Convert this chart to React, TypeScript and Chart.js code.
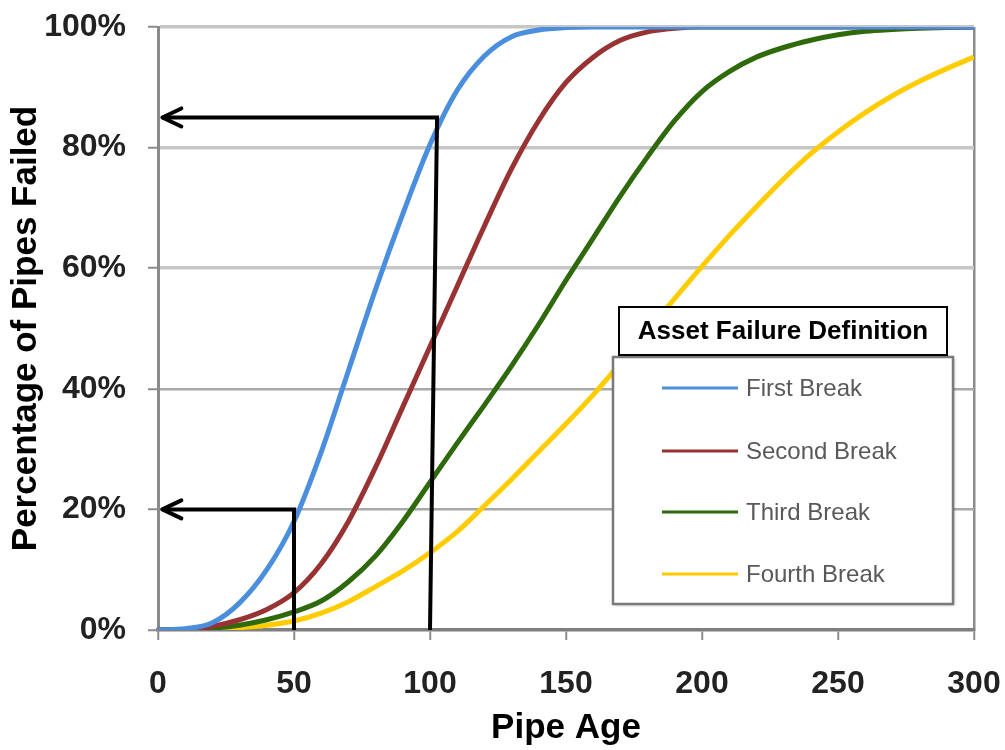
import React, { useEffect, useRef } from "react";
import { Chart, registerables } from "chart.js";

Chart.register(...registerables);

// Pipe age in years (x axis)
const pipeAge = [
  0, 10, 20, 30, 40, 50, 60, 70, 80, 90, 100, 110, 120, 130, 140, 150,
  160, 170, 180, 190, 200, 210, 220, 230, 240, 250, 260, 270, 280, 290, 300,
];

// Cumulative percentage of pipes failed, per failure definition
const firstBreak = [
  0, 0.2, 1.2, 4.5, 10, 18, 29.5, 43, 56.5, 69, 80.5, 89.5, 95.2, 98.4, 99.5, 99.9,
  100, 100, 100, 100, 100, 100, 100, 100, 100, 100, 100, 100, 100, 100, 100,
];
const secondBreak = [
  0, 0.1, 0.6, 1.7, 3.4, 6.2, 11, 18, 27, 37, 47, 57, 67, 76.5, 84.5, 90.8,
  95, 97.8, 99.2, 99.8, 100, 100, 100, 100, 100, 100, 100, 100, 100, 100, 100,
];
const thirdBreak = [
  0, 0.1, 0.3, 0.8, 1.7, 3, 4.8, 8, 12.3, 18, 24.5, 31, 37.3, 43.8, 50.7, 58,
  65, 72, 78.5, 84.5, 89.3, 92.6, 95, 96.6, 97.8, 98.7, 99.3, 99.6, 99.8, 99.9, 100,
];
const fourthBreak = [
  0, 0.1, 0.2, 0.4, 0.8, 1.5, 2.8, 4.7, 7.2, 9.8, 12.8, 16.3, 20.6, 25, 29.6, 34.2,
  39, 44.2, 49.6, 55, 60.3, 65.4, 70.2, 74.8, 79, 82.6, 85.8, 88.6, 91, 93.1, 95,
];

const seriesNames = ["First Break", "Second Break", "Third Break", "Fourth Break"];
const seriesValues = [firstBreak, secondBreak, thirdBreak, fourthBreak];
const seriesColors = ["#4A8FDE", "#993333", "#2E6A0C", "#FFCC00"];

const legendTitle = "Asset Failure Definition";
const xAxisTitle = "Pipe Age";
const yAxisTitle = "Percentage of Pipes Failed";

// Read-off guides (age, percent): up from the age axis, across to the percent axis
const guideFirstBreak85 = [
  [100, 0],
  [102.6, 85],
  [1.6, 85],
];
const guideFirstBreak20 = [
  [50, 0],
  [50, 20],
  [1.6, 20],
];
const guides = [guideFirstBreak85, guideFirstBreak20];

const FONT = "'Liberation Sans', Arial, sans-serif";

const guidePlugin = {
  id: "readGuides",
  afterDatasetsDraw(chart: any) {
    const { ctx, scales } = chart;
    const xs = scales.x;
    const ys = scales.y;
    ctx.save();
    ctx.strokeStyle = "#000";
    ctx.lineWidth = 4;
    for (const g of guides) {
      const pts = g.map(([a, b]) => [xs.getPixelForValue(a), ys.getPixelForValue(b)]);
      ctx.lineJoin = "miter";
      ctx.lineCap = "butt";
      ctx.beginPath();
      ctx.moveTo(pts[0][0], pts[0][1]);
      for (let i = 1; i < pts.length; i++) ctx.lineTo(pts[i][0], pts[i][1]);
      ctx.stroke();
      const [tx, ty] = pts[pts.length - 1];
      ctx.lineJoin = "round";
      ctx.lineCap = "round";
      ctx.beginPath();
      ctx.moveTo(tx + 19, ty - 9);
      ctx.lineTo(tx, ty);
      ctx.lineTo(tx + 19, ty + 9);
      ctx.stroke();
    }
    ctx.restore();
  },
};

const legendPlugin = {
  id: "boxedLegend",
  afterDatasetsDraw(chart: any) {
    const { ctx } = chart;
    const box = { left: 613, top: 357, right: 953, bottom: 604 };
    const head = { left: 619, top: 307, right: 947, bottom: 355 };
    ctx.save();
    // frame with soft shadow
    ctx.shadowColor = "rgba(0,0,0,0.35)";
    ctx.shadowBlur = 3;
    ctx.shadowOffsetX = 1;
    ctx.shadowOffsetY = 1;
    ctx.fillStyle = "#fff";
    ctx.fillRect(box.left, box.top, box.right - box.left, box.bottom - box.top);
    ctx.shadowColor = "transparent";
    ctx.strokeStyle = "#7a7a7a";
    ctx.lineWidth = 2.5;
    ctx.strokeRect(box.left, box.top, box.right - box.left, box.bottom - box.top);

    // heading
    ctx.fillStyle = "#fff";
    ctx.fillRect(head.left, head.top, head.right - head.left, head.bottom - head.top);
    ctx.strokeStyle = "#000";
    ctx.lineWidth = 2;
    ctx.strokeRect(head.left, head.top, head.right - head.left, head.bottom - head.top);
    ctx.fillStyle = "#000";
    ctx.font = `bold 26px ${FONT}`;
    ctx.textAlign = "center";
    ctx.textBaseline = "middle";
    ctx.fillText(legendTitle, (head.left + head.right) / 2, (head.top + head.bottom) / 2 + 1);

    // entries
    const rows = [388, 451, 512, 574];
    chart.data.datasets.forEach((ds: any, i: number) => {
      const yy = rows[i];
      ctx.strokeStyle = ds.borderColor;
      ctx.lineWidth = 3;
      ctx.lineCap = "butt";
      ctx.beginPath();
      ctx.moveTo(662, yy);
      ctx.lineTo(738, yy);
      ctx.stroke();
      ctx.fillStyle = "#595959";
      ctx.font = `24px ${FONT}`;
      ctx.textAlign = "left";
      ctx.textBaseline = "middle";
      ctx.fillText(ds.label, 746, yy + 1);
    });
    ctx.restore();
  },
};

export default function App() {
  const canvasRef = useRef<HTMLCanvasElement | null>(null);

  useEffect(() => {
    const canvas = canvasRef.current;
    if (!canvas) return;
    const chart = new Chart(canvas, {
      type: "line",
      data: {
        datasets: seriesNames.map((name, i) => ({
          label: name,
          data: pipeAge.map((a, j) => ({ x: a, y: seriesValues[i][j] })),
          borderColor: seriesColors[i],
          backgroundColor: seriesColors[i],
          borderWidth: 5,
          pointRadius: 0,
          cubicInterpolationMode: "monotone" as const,
          fill: false,
        })),
      },
      options: {
        responsive: false,
        animation: false,
        devicePixelRatio: 1,
        layout: { padding: { top: 27, right: 31, left: 0, bottom: 0 } },
        plugins: {
          legend: { display: false },
          tooltip: { enabled: false },
        },
        scales: {
          x: {
            type: "linear",
            min: 0,
            max: 300,
            afterFit: (s: any) => {
              s.height = 120;
              s.paddingLeft = 0;
              s.paddingRight = 0;
            },
            ticks: {
              stepSize: 50,
              padding: 25,
              color: "#222",
              font: { family: FONT, size: 32, weight: "bold" },
              maxRotation: 0,
            },
            grid: {
              color: (c: any) => (c.tick && c.tick.value === 300 ? "#8c8c8c" : "rgba(0,0,0,0)"),
              lineWidth: 2.5,
              tickLength: 10,
              tickColor: "#8c8c8c",
              tickWidth: 2,
            },
            border: { display: true, color: "#7f7f7f", width: 3.5 },
            title: {
              display: true,
              text: xAxisTitle,
              color: "#000",
              font: { family: FONT, size: 35, weight: "bold" },
              padding: { top: 0, bottom: 1 },
            },
          },
          y: {
            type: "linear",
            min: 0,
            max: 100,
            afterFit: (s: any) => {
              s.width = 158;
              s.paddingTop = 0;
              s.paddingBottom = 0;
            },
            ticks: {
              stepSize: 20,
              padding: 22,
              color: "#222",
              font: { family: FONT, size: 32, weight: "bold" },
              callback: (v: any) => `${v}%`,
            },
            grid: {
              color: (c: any) =>
                c.tick && c.tick.value >= 60 ? "#c6c6c6" : c.tick && c.tick.value > 0 ? "#a8a8a8" : "rgba(0,0,0,0)",
              lineWidth: (c: any) => (c.tick && c.tick.value >= 60 ? 3.5 : 2.5),
              tickLength: 10,
              tickColor: "#8c8c8c",
              tickWidth: 2,
            },
            border: { display: true, color: "#8a8a8a", width: 3 },
            title: {
              display: true,
              text: yAxisTitle,
              color: "#000",
              font: { family: FONT, size: 35, weight: "bold" },
              padding: { top: 5, bottom: 0 },
            },
          },
        },
      },
      plugins: [guidePlugin, legendPlugin],
    });
    return () => chart.destroy();
  }, []);

  return (
    <div style={{ position: "absolute", left: 0, top: 0, width: 1005, height: 750, background: "#fff" }}>
      <canvas ref={canvasRef} width={1005} height={750} style={{ display: "block" }} />
    </div>
  );
}
